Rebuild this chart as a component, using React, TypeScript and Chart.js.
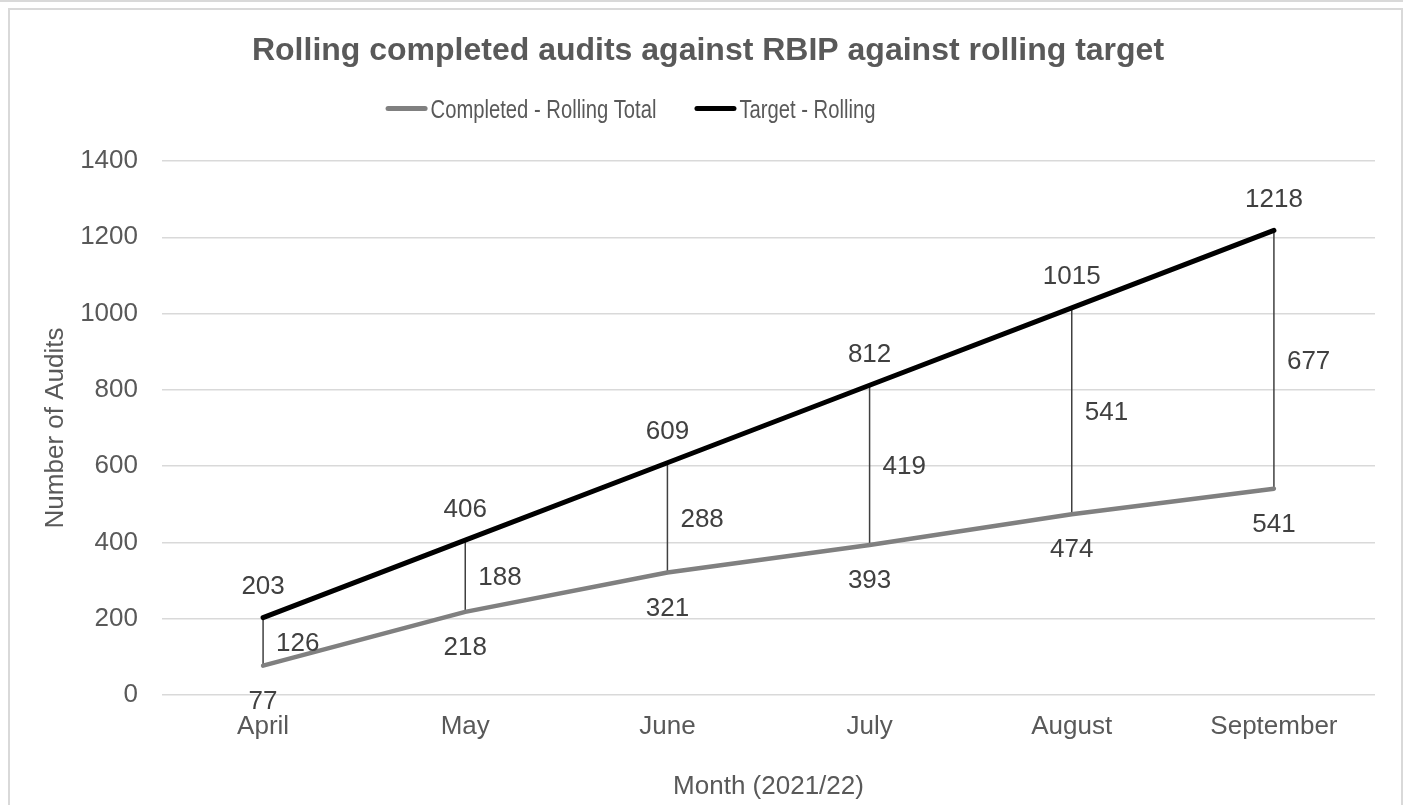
import React, { useEffect, useRef } from "react";
import { Chart, registerables } from "chart.js";

Chart.register(...registerables);

// ---- data ----
const months = ["April", "May", "June", "July", "August", "September"];
const completedRolling = [77, 218, 321, 393, 474, 541];
const targetRolling = [203, 406, 609, 812, 1015, 1218];
const gapValues = [126, 188, 288, 419, 541, 677];
const yMin = 0;
const yMax = 1400;
const yStep = 200;

const chartTitle = "Rolling completed audits against RBIP against rolling target";
const seriesNames = ["Completed - Rolling Total", "Target - Rolling"];
const xAxisTitle = "Month (2021/22)";
const yAxisTitle = "Number of Audits";

// ---- styles ----
const FONT = '"Liberation Sans", Arial, sans-serif';
const TEXT = "#595959";
const LABEL = "#404040";
const GREY = "#808080";
const BLACK = "#000000";
const GRID = "#d9d9d9";
const CANVAS_W = 1391;
const CANVAS_H = 820;

const overlayPlugin = {
  id: "overlay",
  beforeDatasetsDraw(chart: any) {
    const ctx = chart.ctx;
    const lo = chart.getDatasetMeta(0).data;
    const hi = chart.getDatasetMeta(1).data;
    ctx.save();
    ctx.strokeStyle = "#404040";
    ctx.lineWidth = 1.5;
    for (let i = 0; i < lo.length; i++) {
      ctx.beginPath();
      ctx.moveTo(hi[i].x, hi[i].y);
      ctx.lineTo(lo[i].x, lo[i].y);
      ctx.stroke();
    }
    ctx.restore();
  },
  afterDatasetsDraw(chart: any) {
    const ctx = chart.ctx;
    const lo = chart.getDatasetMeta(0).data;
    const hi = chart.getDatasetMeta(1).data;
    ctx.save();
    ctx.font = `26px ${FONT}`;
    ctx.fillStyle = LABEL;
    ctx.textBaseline = "alphabetic";
    for (let i = 0; i < lo.length; i++) {
      ctx.textAlign = "center";
      ctx.fillText(String(targetRolling[i]), hi[i].x, hi[i].y - 23.5);
      ctx.fillText(String(completedRolling[i]), lo[i].x, lo[i].y + 43);
      ctx.textAlign = "left";
      const mid = (hi[i].y + lo[i].y) / 2;
      ctx.fillText(String(gapValues[i]), hi[i].x + 13, mid + 9.3);
    }
    ctx.restore();
  },
  afterDraw(chart: any) {
    const ctx = chart.ctx;
    ctx.save();
    // title
    ctx.font = `bold 32px ${FONT}`;
    ctx.fillStyle = TEXT;
    ctx.textAlign = "center";
    ctx.textBaseline = "alphabetic";
    ctx.fillText(chartTitle, chart.width / 2 + 2.5, 50);

    // legend
    const colors = [GREY, BLACK];
    const sx = 0.79;
    ctx.font = `25.6px ${FONT}`;
    const widths = seriesNames.map((t) => ctx.measureText(t).width * sx);
    const lineLen = 42;
    const lineGap = 3;
    const itemGap = 38;
    let total = itemGap * (seriesNames.length - 1);
    widths.forEach((w) => (total += lineLen + lineGap + w));
    let x = 620.5 - total / 2;
    const lineY = 98.5;
    const textY = 108.3;
    ctx.textAlign = "left";
    seriesNames.forEach((name, i) => {
      ctx.strokeStyle = colors[i];
      ctx.lineWidth = 5;
      ctx.lineCap = "round";
      ctx.beginPath();
      ctx.moveTo(x + 2.5, lineY);
      ctx.lineTo(x + lineLen - 2.5, lineY);
      ctx.stroke();
      x += lineLen + lineGap;
      ctx.save();
      ctx.translate(x, textY);
      ctx.scale(sx, 1);
      ctx.fillStyle = TEXT;
      ctx.fillText(name, 0, 0);
      ctx.restore();
      x += widths[i] + itemGap;
    });
    ctx.restore();
  },
};

export default function App() {
  const ref = useRef<HTMLCanvasElement | null>(null);

  useEffect(() => {
    if (!ref.current) return;
    const chart = new Chart(ref.current, {
      type: "line",
      data: {
        labels: months,
        datasets: [
          {
            label: seriesNames[0],
            data: completedRolling,
            borderColor: GREY,
            backgroundColor: GREY,
            borderWidth: 4.5,
            pointRadius: 0,
            tension: 0,
            borderJoinStyle: "round",
            borderCapStyle: "round",
          },
          {
            label: seriesNames[1],
            data: targetRolling,
            borderColor: BLACK,
            backgroundColor: BLACK,
            borderWidth: 5,
            pointRadius: 0,
            tension: 0,
            borderJoinStyle: "round",
            borderCapStyle: "round",
          },
        ],
      },
      options: {
        responsive: false,
        animation: false,
        devicePixelRatio: 1,
        layout: { padding: { top: 151, left: 0, right: 26, bottom: 0 } },
        plugins: {
          legend: { display: false },
          title: { display: false },
          tooltip: { enabled: false },
        },
        scales: {
          x: {
            type: "category",
            offset: true,
            grid: { display: false, drawTicks: false },
            border: { display: false },
            ticks: {
              color: TEXT,
              font: { family: FONT, size: 26 },
              padding: 16,
              maxRotation: 0,
              autoSkip: false,
            },
            title: {
              display: true,
              text: xAxisTitle,
              color: TEXT,
              font: { family: FONT, size: 26 },
              padding: { top: 0, bottom: 28 },
            },
            afterFit: (s: any) => {
              s.height = CANVAS_H - 685;
            },
          },
          y: {
            min: yMin,
            max: yMax,
            ticks: {
              stepSize: yStep,
              color: TEXT,
              font: { family: FONT, size: 26 },
              padding: 24,
              callback: (v: any) => String(v),
            },
            grid: { color: GRID, lineWidth: 1.5, drawTicks: false },
            border: { display: false },
            title: {
              display: true,
              text: yAxisTitle,
              color: TEXT,
              font: { family: FONT, size: 26 },
              padding: { top: 30, bottom: 0 },
            },
            afterFit: (s: any) => {
              s.width = 152;
            },
          },
        },
      },
      plugins: [overlayPlugin],
    });
    return () => chart.destroy();
  }, []);

  return (
    <>
      <div
        style={{
          position: "fixed",
          left: 0,
          top: 0,
          width: 1403,
          height: 2,
          background: GRID,
        }}
      />
      <div
        style={{
          position: "fixed",
          left: 8,
          top: 8,
          width: CANVAS_W,
          height: CANVAS_H,
          border: `2px solid ${GRID}`,
          background: "#fff",
        }}
      >
        <canvas
          ref={ref}
          width={CANVAS_W}
          height={CANVAS_H}
          style={{ display: "block", width: CANVAS_W, height: CANVAS_H }}
        />
      </div>
    </>
  );
}
